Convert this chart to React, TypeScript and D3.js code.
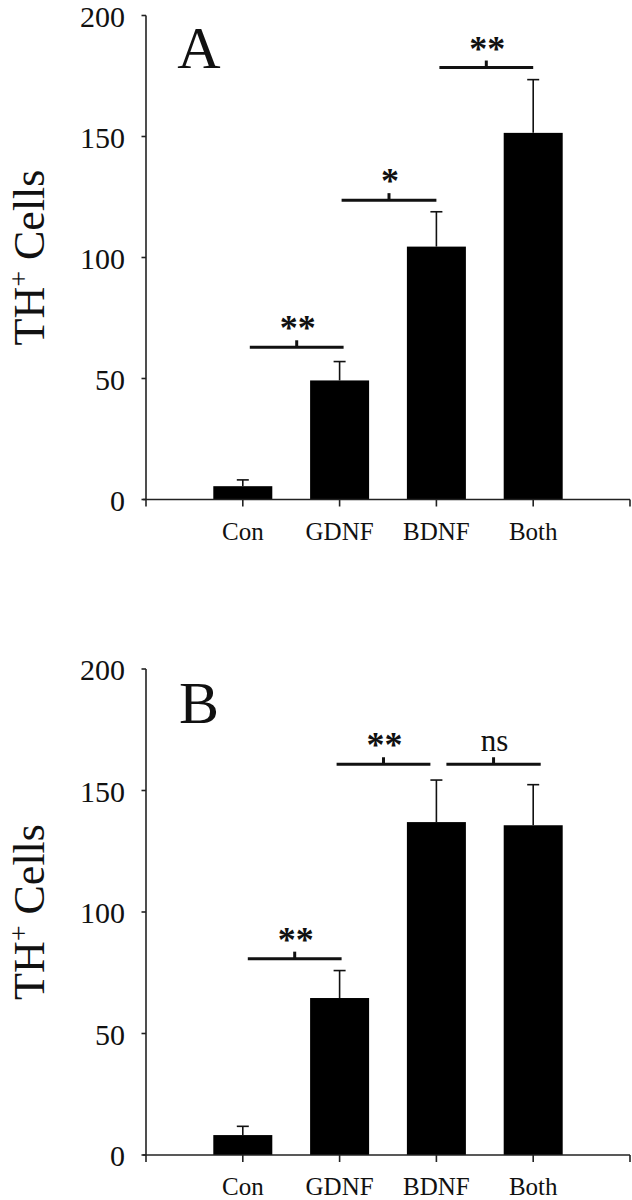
import React from "react";
import * as d3 from "d3";

const categories = ["Con", "GDNF", "BDNF", "Both"];
const panelAValues = [5.5, 49.2, 104.5, 151.5];
const panelAErrors = [2.6, 7.8, 14.4, 22.0];
const panelBValues = [8.2, 64.6, 137.0, 135.7];
const panelBErrors = [3.6, 11.3, 17.3, 16.7];
const yTicks = [0, 50, 100, 150, 200];

const panelABrackets = [
  { from: "Con", to: "GDNF", y: 62.9, label: "**" },
  { from: "GDNF", to: "BDNF", y: 123.7, label: "*" },
  { from: "BDNF", to: "Both", y: 178.5, label: "**" },
];
const panelBBrackets = [
  { from: "Con", to: "GDNF", y: 80.8, label: "**" },
  { from: "GDNF", to: "BDNF", y: 160.8, label: "**" },
  { from: "BDNF", to: "Both", y: 160.8, label: "ns" },
];

// pixel nudges for bracket ends (style only)
const nudgeA = [[7, 4], [2, 0], [3, 0]];
const nudgeB = [[5, 2], [-3, -6], [10, 7.5]];

const SERIF = "'Liberation Serif', 'Times New Roman', serif";
const INK = "#111";

type Bracket = { from: string; to: string; y: number; label: string };

function Panel(props: {
  letter: string;
  values: number[];
  errors: number[];
  brackets: Bracket[];
  nudges: number[][];
  yBottom: number;
  yTop: number;
}) {
  const { letter, values, errors, brackets, nudges, yBottom, yTop } = props;
  const x = d3
    .scalePoint<string>()
    .domain(["_start", ...categories, "_end"])
    .range([146, 630]);
  const y = d3.scaleLinear().domain([0, 200]).range([yBottom, yTop]);
  const barW = 59;
  const capW = 12;
  const axisX = x("_start")!;
  const axisEnd = x("_end")!;
  const midY = (yBottom + yTop) / 2;

  return (
    <g>
      {categories.map((c, i) => (
        <rect
          key={c}
          x={x(c)! - barW / 2}
          y={y(values[i])}
          width={barW}
          height={y(0) - y(values[i])}
          fill="#000"
        />
      ))}
      {categories.map((c, i) => {
        const cx = x(c)!;
        const top = y(values[i] + errors[i]);
        return (
          <g key={"e" + c} stroke="#111" strokeWidth={1.6}>
            <line x1={cx} x2={cx} y1={y(values[i])} y2={top} />
            <line x1={cx - capW / 2} x2={cx + capW / 2} y1={top} y2={top} />
          </g>
        );
      })}
      <line x1={axisX} x2={axisX} y1={y(200)} y2={y(0)} stroke="#222" strokeWidth={1.6} />
      {yTicks.map((t) => (
        <g key={"yt" + t}>
          <line x1={axisX - 4.5} x2={axisX} y1={y(t)} y2={y(t)} stroke="#222" strokeWidth={1.6} />
          <text
            x={125}
            y={y(t)}
            dy="0.37em"
            textAnchor="end"
            fontFamily={SERIF}
            fontSize={30}
            fill={INK}
          >
            {t}
          </text>
        </g>
      ))}
      <line x1={axisX - 3} x2={axisEnd} y1={y(0)} y2={y(0)} stroke="#222" strokeWidth={1.6} />
      {x.domain().map((d) => (
        <line
          key={"xt" + d}
          x1={x(d)!}
          x2={x(d)!}
          y1={y(0)}
          y2={y(0) + 7}
          stroke="#222"
          strokeWidth={1.6}
        />
      ))}
      {categories.map((c) => (
        <text
          key={"xl" + c}
          x={x(c)!}
          y={y(0) + 40}
          textAnchor="middle"
          fontFamily={SERIF}
          fontSize={25}
          fill={INK}
        >
          {c}
        </text>
      ))}
      <text
        transform={`translate(44,${midY}) rotate(-90)`}
        textAnchor="middle"
        fontFamily={SERIF}
        fontSize={44}
        fill={INK}
      >
        <tspan fontFamily={SERIF}>TH</tspan>
        <tspan fontFamily={SERIF} fontSize={28} dy={-16}>+</tspan>
        <tspan fontFamily={SERIF} dy={16}> Cells</tspan>
      </text>
      <text
        x={199}
        y={yTop + (letter === "A" ? 52 : 54)}
        textAnchor="middle"
        fontFamily={SERIF}
        fontSize={60}
        fill={INK}
      >
        {letter}
      </text>
      {brackets.map((b, i) => {
        const x1 = x(b.from)! + nudges[i][0];
        const x2 = x(b.to)! + nudges[i][1];
        const by = y(b.y);
        const mx = (x1 + x2) / 2;
        const isNs = b.label === "ns";
        return (
          <g key={"b" + i}>
            <line x1={x1} x2={x2} y1={by} y2={by} stroke="#111" strokeWidth={3} />
            <line x1={mx} x2={mx} y1={by} y2={by - 7} stroke="#111" strokeWidth={3} />
            <text
              x={mx + 1}
              y={isNs ? by - 13 : by - 7}
              textAnchor="middle"
              fontFamily={SERIF}
              fontSize={isNs ? 31 : 36}
              fontWeight={isNs ? 400 : 700}
              fill={INK}
            >
              {b.label}
            </text>
          </g>
        );
      })}
    </g>
  );
}

export default function App() {
  return (
    <svg
      width={632}
      height={1200}
      viewBox="0 0 632 1200"
      style={{ position: "absolute", left: 0, top: 0, background: "#fff" }}
    >
      <rect width={632} height={1200} fill="#fff" />
      <Panel
        letter="A"
        values={panelAValues}
        errors={panelAErrors}
        brackets={panelABrackets}
        nudges={nudgeA}
        yBottom={499.5}
        yTop={15.5}
      />
      <Panel
        letter="B"
        values={panelBValues}
        errors={panelBErrors}
        brackets={panelBBrackets}
        nudges={nudgeB}
        yBottom={1155}
        yTop={669}
      />
    </svg>
  );
}
